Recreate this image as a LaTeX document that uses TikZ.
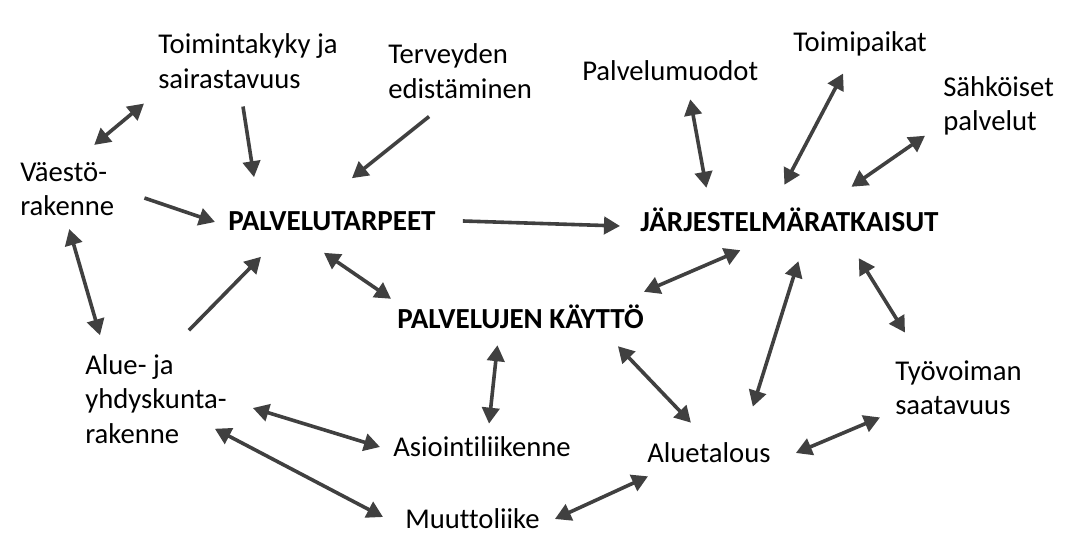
\documentclass[tikz,border=0pt]{standalone}
\usepackage{fontspec}
\setmainfont{Carlito}[Ligatures=CommonOff]
\usepackage{tikz}
\usetikzlibrary{arrows.meta}
\definecolor{argray}{RGB}{64,64,64}
\tikzset{
  txt/.style={anchor=west, inner sep=0pt, align=left, font=\fontsize{21.5pt}{25.8pt}\selectfont},
  hd/.style={txt, font=\fontsize{21.8pt}{25.8pt}\selectfont\bfseries},
  ar/.style={draw=argray, line width=2.7pt, ->, >={Triangle[length=12pt,width=13pt]}},
  dar/.style={ar, <->},
  diagram/.style={x=0.75pt, y=-0.75pt}
}
\begin{document}
\begin{tikzpicture}[diagram]
  \useasboundingbox (0,0) rectangle (1066,559);
  % outer factors
  \node[txt] (toim) at (158,61) {Toimintakyky ja\\sairastavuus};
  \node[txt] (terv) at (388,71) {Terveyden\\edistäminen};
  \node[txt] (pmuod) at (582,71) {Palvelumuodot};
  \node[txt] (toimip) at (793,44) {Toimipaikat};
  \node[txt] (sahk) at (943,106) {Sähköiset\\palvelut};
  \node[txt] (vaesto) at (20,189) {Väestö-\\rakenne};
  \node[txt] (alue) at (85,399) {Alue- ja\\yhdyskunta-\\rakenne};
  \node[txt] (tyov) at (895,388) {Työvoiman\\saatavuus};
  \node[txt] (asioi) at (393,447) {Asiointiliikenne};
  \node[txt] (alueta) at (647,453) {Aluetalous};
  \node[txt] (muutto) at (405,519) {Muuttoliike};
  % main concepts
  \node[hd] (ptarp) at (228,221) {PALVELUTARPEET};
  \node[hd] (jarj) at (640,220) {JÄRJESTELMÄRATKAISUT};
  \node[hd] (pkaytto) at (397,317) {PALVELUJEN KÄYTTÖ};
  % into palvelutarpeet
  \draw[dar] ([shift={(-14,15)}]toim.south west) -- ([shift={(27,-17)}]vaesto.north);
  \draw[ar] ([shift={(-5,18)}]toim.south) -- ([shift={(26,-34)}]ptarp.north west);
  \draw[ar] ([shift={(-31,18)}]terv.south) -- ([shift={(20,-33)}]ptarp.north);
  \draw[ar] ([shift={(30,9)}]vaesto.east) -- ([shift={(-13,1)}]ptarp.west);
  \draw[dar] ([shift={(2,13)}]vaesto.south) -- ([shift={(15,-19)}]alue.north west);
  \draw[ar] ([shift={(33,-24)}]alue.north) -- ([shift={(33,26)}]ptarp.south west);
  \draw[ar] ([shift={(27,0)}]ptarp.east) -- ([shift={(-20,6)}]jarj.west);
  \draw[dar] ([shift={(-8,22)}]ptarp.south) -- ([shift={(-6,-6)}]pkaytto.north west);
  % around jarjestelmaratkaisut
  \draw[dar] ([shift={(20,18)}]pmuod.south) -- ([shift={(-83,-20)}]jarj.north);
  \draw[dar] ([shift={(-17,17)}]toimip.south) -- ([shift={(-5,-23)}]jarj.north);
  \draw[dar] ([shift={(-18,0)}]sahk.south west) -- ([shift={(62,-21)}]jarj.north);
  \draw[dar] ([shift={(-49,18)}]jarj.south) -- ([shift={(0,-13)}]pkaytto.north east);
  \draw[dar] ([shift={(9,29)}]jarj.south) -- ([shift={(-18,-36)}]alueta.north east);
  \draw[dar] ([shift={(-80,26)}]jarj.south east) -- ([shift={(10,-28)}]tyov.north west);
  % lower part
  \draw[dar] ([shift={(-23,16)}]pkaytto.south) -- ([shift={(7,-13)}]asioi.north);
  \draw[dar] ([shift={(-26,17)}]pkaytto.south east) -- ([shift={(-18,-20)}]alueta.north);
  \draw[dar] ([shift={(26,9)}]alue.east) -- ([shift={(-13,0)}]asioi.west);
  \draw[dar] ([shift={(-12,-15)}]alue.south east) -- ([shift={(-22,-2)}]muutto.west);
  \draw[dar] ([shift={(25,0)}]alueta.east) -- ([shift={(-15,2)}]tyov.south west);
  \draw[dar] ([shift={(15,0)}]muutto.east) -- ([shift={(1,13)}]alueta.south west);
\end{tikzpicture}
\end{document}
